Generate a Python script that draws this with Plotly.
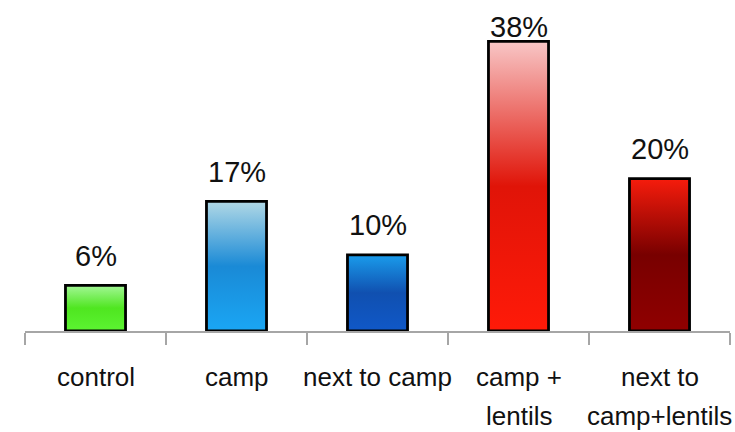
import plotly.graph_objects as go

# Share of samples (%) per treatment
categories = ["control", "camp", "next to camp", "camp +<br>lentils", "next to<br>camp+lentils"]
values = [6, 17, 10, 38, 20]

# Vertical gradient per bar: (bottom, middle, top)
gradients = [
    ("#5cf432", "#4fe620", "#a3f796"),
    ("#1aa6f4", "#1a8ad6", "#b0d8e6"),
    ("#1058c8", "#1050b0", "#1a9ceb"),
    ("#ff1a08", "#e01408", "#f8c6c6"),
    ("#900000", "#780000", "#f61c0c"),
]

BAR_HALF = 0.213
FONT = "Liberation Sans, Arial, sans-serif"
Y_MAX = 43.44
PLOT_H = 331  # plot-area height in px

fig = go.Figure()

for i, (v, (c0, c1, c2)) in enumerate(zip(values, gradients)):
    x0, x1 = i - BAR_HALF, i + BAR_HALF
    fig.add_trace(go.Scatter(
        x=[x0, x0, x1, x1, x0],
        y=[0, v, v, 0, 0],
        mode="lines",
        fill="toself",
        fillgradient=dict(type="vertical", colorscale=[[0, c0], [0.5, c1], [1, c2]]),
        line=dict(color="#000000", width=2.8),
        hoverinfo="skip",
        showlegend=False,
    ))

# Value labels above each bar, kept inside the top of the chart
px_per_unit = PLOT_H / Y_MAX
for i, v in enumerate(values):
    bar_top_px = PLOT_H - v * px_per_unit
    baseline_px = max(bar_top_px - 20, 37)
    fig.add_annotation(
        x=i, y=v, text=f"{v}%", showarrow=False,
        yanchor="bottom", yshift=(bar_top_px - baseline_px) - 8.5,
        font=dict(family=FONT, size=29, color="#111111"),
    )

# Category labels below the axis, one line per annotation for wider leading
for i, label in enumerate(categories):
    for k, line in enumerate(label.split("<br>")):
        fig.add_annotation(
            x=i, y=0, yref="paper", text=line, showarrow=False,
            yanchor="top", yshift=-29 - 39 * k,
            font=dict(family=FONT, size=26, color="#111111"),
        )

fig.update_layout(
    width=735, height=432,
    margin=dict(l=25, r=5, t=0, b=101),
    paper_bgcolor="white", plot_bgcolor="white",
    xaxis=dict(
        range=[-0.5, 4.5],
        tickmode="array", tickvals=list(range(len(categories))),
        showticklabels=False, ticks="",
        showgrid=False, zeroline=False,
        showline=True, linecolor="#a6a6a6", linewidth=2,
        minor=dict(
            tickmode="linear", tick0=-0.5, dtick=1,
            ticks="outside", ticklen=12, tickwidth=1.5, tickcolor="#a6a6a6",
            showgrid=False,
        ),
    ),
    yaxis=dict(
        range=[0, Y_MAX], visible=False, showgrid=False, zeroline=False,
    ),
)

fig.write_html("out.html")
